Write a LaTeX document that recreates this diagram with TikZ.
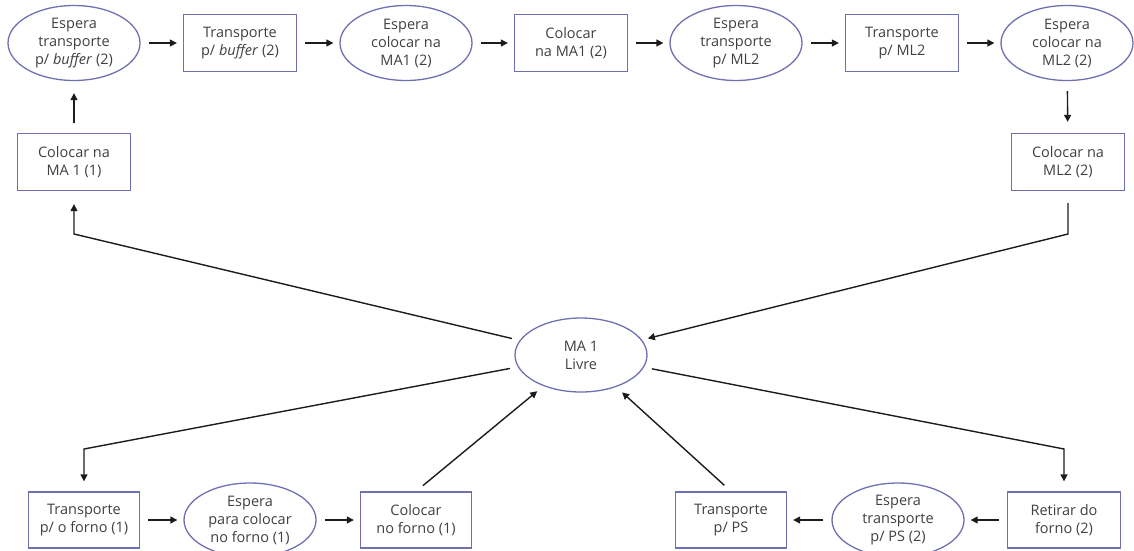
\documentclass[tikz,border=0pt]{standalone}
\usepackage{fontspec}
\setmainfont{Open Sans}
\usetikzlibrary{shapes.geometric,arrows.meta}
\definecolor{nodeedge}{HTML}{6F70B3}
\definecolor{txt}{HTML}{404040}
\definecolor{wire}{HTML}{1C1C1C}
\begin{document}
\begin{tikzpicture}[x=1pt,y=-1pt,
  base/.style={draw=nodeedge, line width=1.3pt, text=txt, align=center,
    font=\fontsize{14.5}{18}\selectfont, inner sep=0pt},
  wait/.style={base, ellipse, minimum width=132pt, minimum height=75pt},
  task/.style={base, rectangle, minimum width=113pt, minimum height=57pt},
  arr/.style={draw=wire, line width=1.4pt, -{Triangle[length=7pt,width=7pt]},
    shorten >=6pt, shorten <=8pt}
]
\useasboundingbox (0,0) rectangle (1134,550);

% upper chain
\node[wait] (e1) at (74,43)   {Espera\\transporte\\p/ \textit{buffer} (2)};
\node[task] (b1) at (240,43)  {Transporte\\p/ \textit{buffer} (2)};
\node[wait] (e2) at (406,43)  {Espera\\colocar na\\MA1 (2)};
\node[task] (b2) at (571,43)  {Colocar\\na MA1 (2)};
\node[wait] (e3) at (736,43)  {Espera\\transporte\\p/ ML2};
\node[task] (b3) at (902,43)  {Transporte\\p/ ML2};
\node[wait] (e4) at (1067,43) {Espera\\colocar na\\ML2 (2)};
\node[task] (b4) at (1068,162) {Colocar na\\ML2 (2)};
\node[task] (b0) at (74,162)  {Colocar na\\MA 1 (1)};

% central state
\node[wait, minimum height=74pt] (c) at (581,355) {MA 1\\Livre};

% lower chains
\node[task, minimum width=111pt, minimum height=56pt] (f1) at (84,520)  {Transporte\\p/ o forno (1)};
\node[wait, minimum height=74pt] (f2) at (250,520) {Espera\\para colocar\\no forno (1)};
\node[task, minimum width=111pt, minimum height=56pt] (f3) at (416,520) {Colocar\\no forno (1)};
\node[task, minimum width=111pt, minimum height=56pt] (p1) at (731,520) {Transporte\\p/ PS};
\node[wait, minimum height=74pt] (p2) at (898,520) {Espera\\transporte\\p/ PS (2)};
\node[task, minimum width=113pt, minimum height=56pt] (p3) at (1064,520) {Retirar do\\forno (2)};

% bends of the long connectors
\coordinate (k1) at (74,234);
\coordinate (k3) at (1068,234);
\coordinate (k2) at (84,449);
\coordinate (k4) at (1064,449);

% upper chain arrows
\draw[arr] (e1) -- (b1);
\draw[arr] (b1) -- (e2);
\draw[arr] (e2) -- (b2);
\draw[arr] (b2) -- (e3);
\draw[arr] (e3) -- (b3);
\draw[arr] (b3) -- (e4);
\draw[arr, shorten <=10pt, shorten >=12pt] (b0) -- (e1);
\draw[arr, shorten <=10pt, shorten >=11pt] (e4) -- (b4);

% connections through the central state
\draw[arr, shorten >=13pt] (c) -- (k1) -- (b0);
\draw[arr, shorten <=12pt, shorten >=6pt] (b4) -- (k3) -- (c);
\draw[arr, shorten >=10pt] (c) -- (k2) -- (f1);
\draw[arr, shorten >=10pt] (c) -- (k4) -- (p3);
\draw[arr, shorten <=9pt, shorten >=8pt] (f3.north) -- (c);
\draw[arr, shorten <=9pt, shorten >=8pt] (p1.north) -- (c);

% lower chain arrows
\draw[arr] (f1) -- (f2);
\draw[arr] (f2) -- (f3);
\draw[arr] (p3) -- (p2);
\draw[arr] (p2) -- (p1);
\end{tikzpicture}
\end{document}
